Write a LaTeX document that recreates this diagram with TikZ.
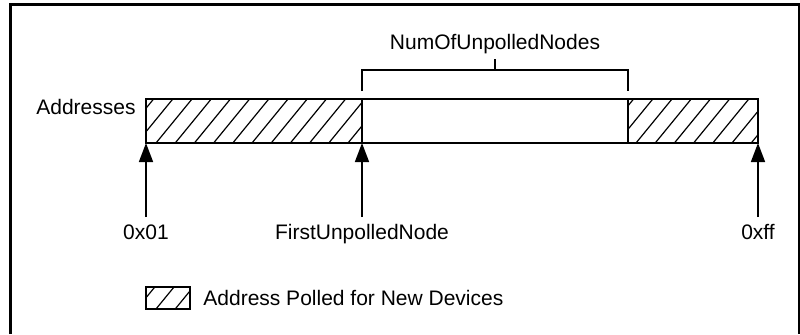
\documentclass[tikz,border=0pt]{standalone}
\usepackage{fontspec}
\setmainfont{Liberation Sans}
\usetikzlibrary{arrows.meta}
\tikzstyle{frame}=[line width=1.5pt, line join=miter]
\tikzstyle{bar}=[line width=0.8pt]
\tikzstyle{hatch}=[line width=0.6pt]
\tikzstyle{pointer}=[line width=0.8pt, -{Triangle[length=9.5pt,width=7pt]}]
\tikzstyle{txt}=[inner sep=0pt, font=\fontsize{10.5}{12}\selectfont]
\newcommand{\hatchfill}[4]{%
  \begin{scope}
    \clip (#1,#2) rectangle (#3,#4);
    \foreach \k in {-4,...,32} \draw[hatch] ({156+19.2*\k},#4) -- ++(36,-44);
  \end{scope}}

\begin{document}
\begin{tikzpicture}[x=0.5pt,y=-0.5pt]
\useasboundingbox (0,0) rectangle (800,334);
\draw[frame] (10,334) -- (10,4) -- (799,4) -- (799,334);

% address range
\coordinate (lo) at (146,143);
\coordinate (first) at (362,143);
\coordinate (hi) at (758,143);
\coordinate (mid) at (495,70);
\hatchfill{146}{99}{362}{143}
\hatchfill{628}{99}{758}{143}
\draw[bar] (146,99) rectangle (758,143);
\draw[bar] (362,99) -- (362,143) (628,99) -- (628,143);
\node[txt, anchor=base east] (addr) at (136,114) {Addresses};

% unpolled span
\draw[bar] (362,91) -- (362,70) -- (628,70) -- (628,91);
\node[txt, anchor=south, inner sep=2.3pt] (count) at (495,59) {NumOfUnpolledNodes};
\draw[bar] (count.south) -- (mid);

% pointers
\node[txt, anchor=north, inner sep=3.5pt] (start) at (146,217) {0x01};
\node[txt, anchor=north, inner sep=3.5pt] (next) at (362,217) {FirstUnpolledNode};
\node[txt, anchor=north, inner sep=3.5pt] (stop) at (758,217) {0xff};
\draw[pointer] (start.north) -- (lo);
\draw[pointer] (next.north) -- (first);
\draw[pointer] (stop.north) -- (hi);

% legend
\hatchfill{146}{287}{190}{309}
\draw[bar] (146,287) rectangle (190,309);
\node[txt, anchor=base west] (key) at (203,305) {Address Polled for New Devices};
\end{tikzpicture}
\end{document}
